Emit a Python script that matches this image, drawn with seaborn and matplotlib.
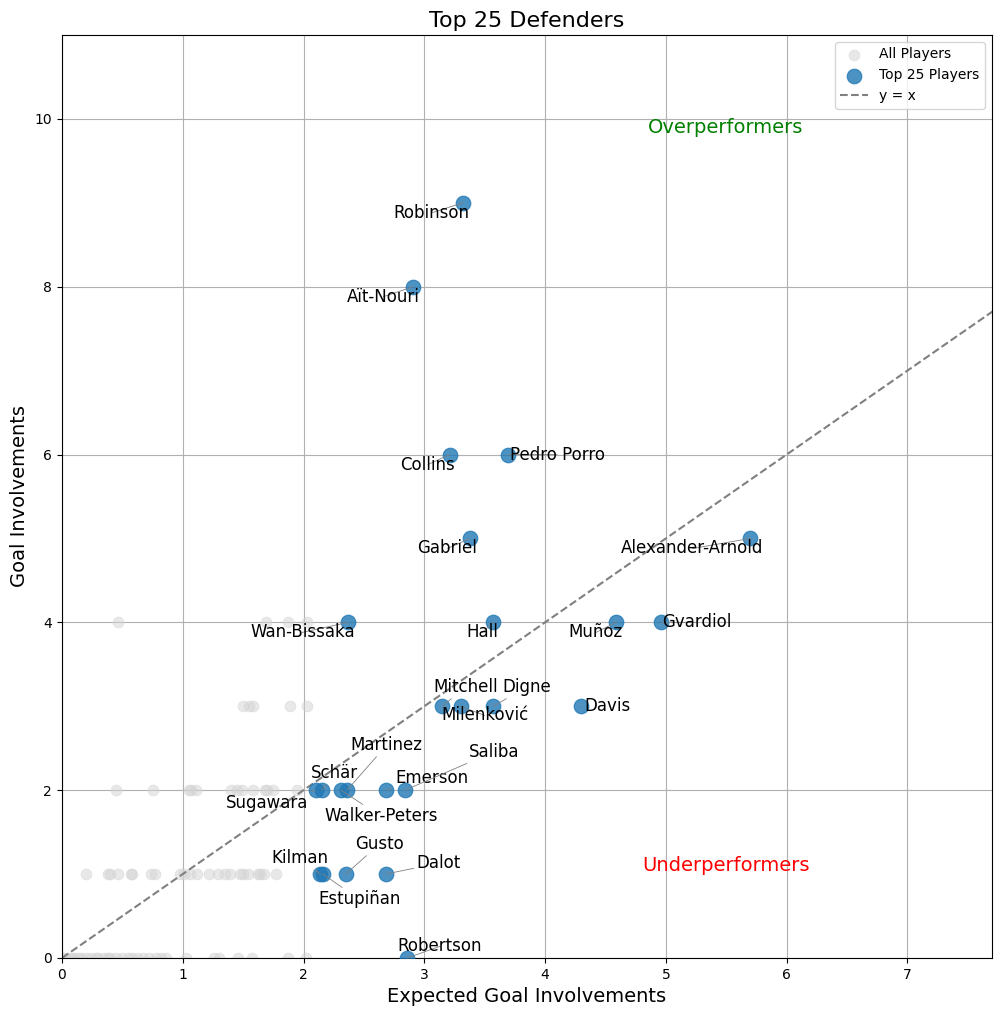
import pandas as pd
import numpy as np
import matplotlib.pyplot as plt
import seaborn as sns

# =========================================================
# DATA
# =========================================================

# Background: all other defenders (expected vs actual goal involvements)
all_xgi_row0 = [0.0, 0.02, 0.05, 0.08, 0.1, 0.13, 0.16, 0.2, 0.24, 0.28, 0.3, 0.35,
                0.38, 0.4, 0.45, 0.5, 0.55, 0.58, 0.62, 0.67, 0.72, 0.78, 0.82, 0.86,
                1.03, 1.26, 1.30, 1.46, 1.57, 1.87, 2.02]
all_xgi_row1 = [0.20, 0.38, 0.40, 0.46, 0.57, 0.58, 0.74, 0.77, 0.98, 1.01, 1.06, 1.12,
                1.22, 1.29, 1.35, 1.39, 1.47, 1.50, 1.54, 1.62, 1.64, 1.67, 1.77]
all_xgi_row2 = [0.45, 0.75, 1.05, 1.07, 1.11, 1.40, 1.45, 1.49, 1.58, 1.68, 1.70, 1.75, 1.95]
all_xgi_row3 = [1.50, 1.55, 1.58, 1.89, 2.03]
all_xgi_row4 = [0.46, 1.69, 1.87, 2.03]

top_names = ['Robinson', 'Aït-Nouri', 'Collins', 'Pedro Porro', 'Gabriel',
             'Alexander-Arnold', 'Wan-Bissaka', 'Hall', 'Muñoz', 'Gvardiol',
             'Mitchell', 'Milenković', 'Digne', 'Davis', 'Sugawara', 'Schär',
             'Walker-Peters', 'Martinez', 'Emerson', 'Saliba', 'Kilman',
             'Estupiñan', 'Gusto', 'Dalot', 'Robertson']
top_xgi = [3.32, 2.91, 3.21, 3.69, 3.38, 5.70, 2.37, 3.57, 4.59, 4.96,
           3.15, 3.30, 3.57, 4.30, 2.10, 2.15, 2.31, 2.36, 2.68, 2.84,
           2.14, 2.16, 2.35, 2.68, 2.86]
top_gi = [9, 8, 6, 6, 5, 5, 4, 4, 4, 4,
          3, 3, 3, 3, 2, 2, 2, 2, 2, 2,
          1, 1, 1, 1, 0]

# label positions (text placement only, data coords)
LABEL_POS = {
    'Robinson': (3.06, 8.88), 'Aït-Nouri': (2.66, 7.88), 'Collins': (3.03, 5.88),
    'Pedro Porro': (4.10, 6.0), 'Gabriel': (3.19, 4.88), 'Alexander-Arnold': (5.22, 4.88),
    'Wan-Bissaka': (1.99, 3.88), 'Hall': (3.48, 3.88), 'Muñoz': (4.42, 3.88),
    'Gvardiol': (5.26, 4.0), 'Mitchell': (3.34, 3.23), 'Milenković': (3.50, 2.89),
    'Digne': (3.85, 3.23), 'Davis': (4.52, 3.0), 'Sugawara': (1.70, 1.85),
    'Schär': (2.26, 2.21), 'Walker-Peters': (2.64, 1.69), 'Martinez': (2.69, 2.54),
    'Emerson': (3.06, 2.14), 'Saliba': (3.58, 2.46), 'Kilman': (1.97, 1.19),
    'Estupiñan': (2.46, 0.70), 'Gusto': (2.63, 1.36), 'Dalot': (3.12, 1.13),
    'Robertson': (3.13, 0.14),
}

rows = [all_xgi_row0, all_xgi_row1, all_xgi_row2, all_xgi_row3, all_xgi_row4]
df_all = pd.DataFrame({
    'xGI': [x for r in rows for x in r],
    'GI': [gi for gi, r in enumerate(rows) for _ in r],
})
df_top = pd.DataFrame({'name': top_names, 'xGI': top_xgi, 'GI': top_gi})

# =========================================================
# PLOT
# =========================================================

fig = plt.figure(figsize=(10.01, 10.16), dpi=100)
ax = fig.add_axes([0.0619, 0.0571, 0.9291, 0.9085])

sns.scatterplot(data=df_all, x='xGI', y='GI', color='lightgrey', alpha=0.5,
                s=60, edgecolor='face', label='All Players', ax=ax)
sns.scatterplot(data=df_top, x='xGI', y='GI', color='#1f77b4', alpha=0.8,
                s=110, edgecolor='face', label='Top 25 Players', ax=ax, zorder=3)

x_max = df_top['xGI'].max() + 2
y_max = df_top['GI'].max() + 2
ax.plot([0, y_max], [0, y_max], linestyle='--', color='gray', label='y = x')

for _, r in df_top.iterrows():
    tx, ty = LABEL_POS[r['name']]
    ax.annotate(r['name'], xy=(r['xGI'], r['GI']), xytext=(tx, ty),
                ha='center', va='center', fontsize=12, zorder=4,
                arrowprops=dict(arrowstyle='-', color='gray', lw=0.6, shrinkA=0, shrinkB=0))

ax.text(x_max * 0.714, y_max * 0.9, 'Overperformers', color='green', fontsize=14,
        ha='center', va='center')
ax.text(x_max * 0.714, y_max * 0.1, 'Underperformers', color='red', fontsize=14,
        ha='center', va='center')

ax.set_xlim(0, x_max)
ax.set_ylim(0, y_max)
ax.set_title('Top 25 Defenders', fontsize=16)
ax.set_xlabel('Expected Goal Involvements', fontsize=14)
ax.set_ylabel('Goal Involvements', fontsize=14)
ax.grid(True)
ax.set_axisbelow(True)
ax.legend(loc='upper right')

fig.savefig('out.png', dpi=100)
